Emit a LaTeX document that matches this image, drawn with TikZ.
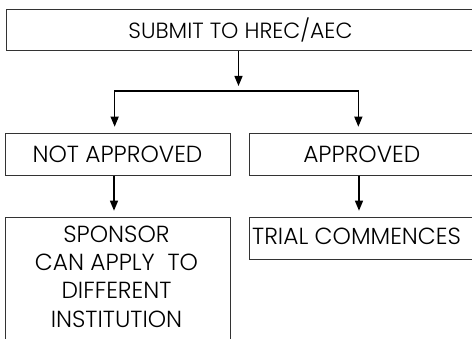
\documentclass[tikz,border=0pt]{standalone}
\usepackage{fontspec}
\setmainfont{Poppins}[UprightFont=* Light]
\usetikzlibrary{arrows.meta}
\begin{document}
\begin{tikzpicture}[x=1pt,y=1pt,
  box/.style={draw=black!80,line width=1pt,rectangle,inner sep=0pt,anchor=north west,align=center},
  big/.style={font=\fontsize{23.3}{28.3}\selectfont},
  small/.style={font=\fontsize{22}{24}\selectfont},
  arr/.style={line width=1.3pt,-{Triangle[width=8pt,length=10pt]},shorten >=6pt},
  ln/.style={line width=1.3pt}]
\useasboundingbox (0,0) rectangle (472,338);
\clip (0,0) rectangle (472,338);
\node[box,small,minimum width=468,minimum height=41] (top) at (6,329) {\raisebox{1pt}{SUBMIT TO HREC/AEC}};
\node[box,big,minimum width=225,minimum height=42] (na) at (4.5,205.3) {NOT APPROVED};
\node[box,big,minimum width=224,minimum height=42] (ap) at (249.3,205.3) {APPROVED};
\node[box,big,minimum width=225,minimum height=140,anchor=north west] (sp) at (4.5,121.3) {};
\node[big,anchor=north,align=center,inner sep=0pt] (spt) at (116.5,112.5) {SPONSOR\\CAN APPLY\ \ TO\\DIFFERENT\\INSTITUTION};
\node[box,minimum width=230,minimum height=42] (tc) at (249.3,121.3) {};
\node[big,anchor=west,inner sep=0pt] (tct) at (252,101.5) {TRIAL COMMENCES};
\coordinate (bl) at (114,247);
\coordinate (br) at (359,247);
\draw[arr,shorten >=5pt] ([xshift=-2pt]top.south) -- ([xshift=-2pt]top.south |- bl);
\draw[ln] (bl) -- (br);
\draw[arr] ([xshift=0.65pt]bl) -- ([xshift=0.65pt]bl |- na.north);
\draw[arr] ([xshift=-0.65pt]br) -- ([xshift=-0.65pt]br |- ap.north);
\draw[arr] (bl |- na.south) -- (bl |- sp.north);
\draw[arr] (br |- ap.south) -- (br |- tc.north);
\end{tikzpicture}
\end{document}
